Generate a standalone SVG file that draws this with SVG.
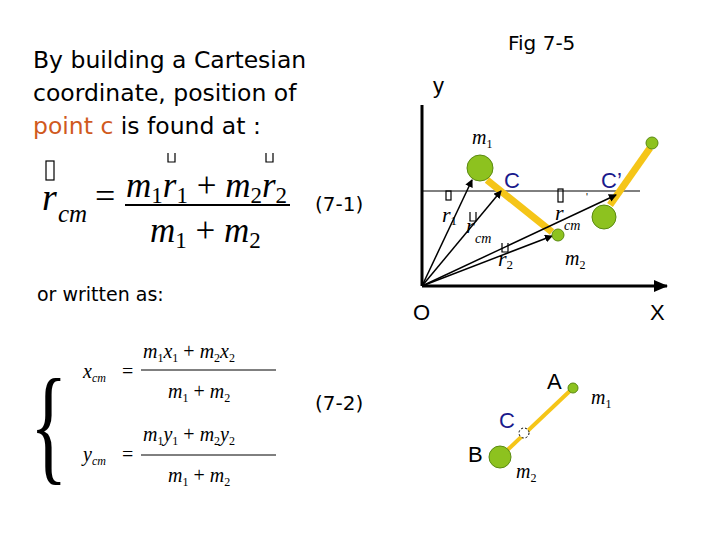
<svg xmlns="http://www.w3.org/2000/svg" width="720" height="540" viewBox="0 0 720 540">
<style>
.s{font-family:"Liberation Sans",Arial,sans-serif;fill:#000}
.t{font-family:"DejaVu Sans",sans-serif;fill:#000}
.v{font-family:"DejaVu Sans",sans-serif;fill:#000}
.m{font-family:"Liberation Serif","Times New Roman",serif;font-style:italic;fill:#000}
.n{font-family:"Liberation Serif","Times New Roman",serif;fill:#000}
.b{fill:#8dc21f;stroke:#5a8a10;stroke-width:1}
.bar{stroke:#f5c518;stroke-width:7}
.vec{stroke:#000;stroke-width:1.5;fill:none;marker-end:url(#a)}
.bx{fill:none;stroke:#000;stroke-width:1.2}
</style>
<defs>
<marker id="a" markerWidth="8" markerHeight="8" refX="7" refY="4" orient="auto" markerUnits="userSpaceOnUse"><path d="M0,0 L8,4 L0,8 z" fill="#000"/></marker>
<marker id="ax" markerWidth="14" markerHeight="12" refX="13" refY="6" orient="auto" markerUnits="userSpaceOnUse"><path d="M0,0 L14,6 L0,12 z" fill="#000"/></marker>
</defs>
<rect width="720" height="540" fill="#fff"/>
<g id="title">
<text class="t" x="508" y="50" font-size="20">Fig 7-5</text>
<text class="t" x="33" y="68" font-size="23.5">By building a Cartesian</text>
<text class="t" x="33" y="101" font-size="23.5">coordinate, position of</text>
<text class="t" x="33" y="134" font-size="23.5"><tspan fill="#d05a1e">point c</tspan> is found at :</text>
</g>
<g id="eq1">
<rect class="bx" x="46" y="161" width="8" height="19"/>
<text class="m" x="42" y="210" font-size="38">r</text>
<text class="m" x="58" y="222" font-size="25">cm</text>
<text class="n" x="95" y="208" font-size="36">=</text>
<text class="m" x="126" y="197" font-size="35">m<tspan font-style="normal" font-size="23" dy="6">1</tspan><tspan dy="-6">r</tspan><tspan font-style="normal" font-size="23" dy="6">1</tspan><tspan font-style="normal" dy="-6"> + </tspan>m<tspan font-style="normal" font-size="23" dy="6">2</tspan><tspan dy="-6">r</tspan><tspan font-style="normal" font-size="23" dy="6">2</tspan></text>
<path d="M168,153 v9 h7 v-9 M266,153 v9 h7 v-9" fill="none" stroke="#000" stroke-width="1.2"/>
<line x1="125" y1="205" x2="290" y2="205" stroke="#000" stroke-width="2"/>
<text class="m" x="150" y="242" font-size="35">m<tspan font-style="normal" font-size="23" dy="6">1</tspan><tspan font-style="normal" dy="-6"> + </tspan>m<tspan font-style="normal" font-size="23" dy="6">2</tspan></text>
<text class="v" x="315" y="211" font-size="20">(7-1)</text>
</g>
<g id="eq2">
<text class="v" x="37" y="301" font-size="19">or written as:</text>
<text class="n" x="50" y="468" font-size="130" transform="scale(0.6,1)" style="font-style:normal">{</text>
<text class="m" x="83" y="378" font-size="20">x<tspan font-size="12" dy="4">cm</tspan></text>
<text class="n" x="122" y="378" font-size="20">=</text>
<text class="m" x="143" y="358" font-size="20">m<tspan font-style="normal" font-size="12" dy="4">1</tspan><tspan dy="-4">x</tspan><tspan font-style="normal" font-size="12" dy="4">1</tspan><tspan font-style="normal" dy="-4"> + </tspan>m<tspan font-style="normal" font-size="12" dy="4">2</tspan><tspan dy="-4">x</tspan><tspan font-style="normal" font-size="12" dy="4">2</tspan></text>
<line x1="141" y1="370" x2="276" y2="370" stroke="#000" stroke-width="1"/>
<text class="m" x="168" y="398" font-size="20">m<tspan font-style="normal" font-size="12" dy="4">1</tspan><tspan font-style="normal" dy="-4"> + </tspan>m<tspan font-style="normal" font-size="12" dy="4">2</tspan></text>
<text class="m" x="83" y="461" font-size="20">y<tspan font-size="12" dy="4">cm</tspan></text>
<text class="n" x="122" y="461" font-size="20">=</text>
<text class="m" x="143" y="441" font-size="20">m<tspan font-style="normal" font-size="12" dy="4">1</tspan><tspan dy="-4">y</tspan><tspan font-style="normal" font-size="12" dy="4">1</tspan><tspan font-style="normal" dy="-4"> + </tspan>m<tspan font-style="normal" font-size="12" dy="4">2</tspan><tspan dy="-4">y</tspan><tspan font-style="normal" font-size="12" dy="4">2</tspan></text>
<line x1="141" y1="455" x2="276" y2="455" stroke="#000" stroke-width="1"/>
<text class="m" x="168" y="482" font-size="20">m<tspan font-style="normal" font-size="12" dy="4">1</tspan><tspan font-style="normal" dy="-4"> + </tspan>m<tspan font-style="normal" font-size="12" dy="4">2</tspan></text>
<text class="v" x="315" y="410" font-size="20">(7-2)</text>
</g>
<g id="axes">
<line x1="422" y1="286" x2="422" y2="105" stroke="#000" stroke-width="3"/>
<line x1="422" y1="286" x2="667" y2="286" stroke="#000" stroke-width="3" marker-end="url(#ax)"/>
<line x1="422" y1="191" x2="640" y2="191" stroke="#000" stroke-width="1"/>
<text class="s" x="433" y="93" font-size="22">y</text>
<text class="s" x="413" y="320" font-size="22">O</text>
<text class="s" x="650" y="320" font-size="22">X</text>
</g>
<g id="rods">
<line class="bar" x1="487" y1="180" x2="552" y2="232"/>
<line class="bar" x1="610" y1="205" x2="650" y2="148"/>
<line x1="573" y1="388" x2="500" y2="457" class="bar" style="stroke-width:4"/>
</g>
<g id="connectors">
<line class="vec" x1="422" y1="286" x2="472" y2="180"/>
<line class="vec" x1="422" y1="286" x2="501" y2="191"/>
<line class="vec" x1="422" y1="286" x2="552" y2="236"/>
<line class="vec" x1="422" y1="286" x2="616" y2="195"/>
</g>
<g id="m1"><circle class="b" cx="480" cy="168" r="13"/><text class="m" x="472" y="144" font-size="20">m<tspan font-style="normal" font-size="12" dy="4">1</tspan></text></g>
<g id="m2"><circle class="b" cx="558" cy="235" r="6"/><text class="m" x="565" y="265" font-size="20">m<tspan font-style="normal" font-size="12" dy="4">2</tspan></text></g>
<g id="C"><text class="s" x="504" y="188" font-size="22" style="fill:#1a1a8c">C</text></g>
<g id="Cp"><circle class="b" cx="604" cy="217" r="12"/><circle class="b" cx="652" cy="143" r="6"/><text class="s" x="601" y="188" font-size="22" style="fill:#1a1a8c">C’</text></g>
<g id="labels">
<rect class="bx" x="446" y="191" width="5" height="9"/>
<text class="m" x="442" y="222" font-size="22">r<tspan font-style="normal" font-size="13" dy="3">1</tspan></text>
<path d="M470,212 v9 h6 v-9" class="bx"/>
<text class="m" x="466" y="233" font-size="22">r</text>
<text class="m" x="475" y="243" font-size="14">cm</text>
<path d="M502,243 v9 h6 v-9" class="bx"/>
<text class="m" x="498" y="266" font-size="22">r<tspan font-style="normal" font-size="13" dy="3">2</tspan></text>
<rect class="bx" x="558" y="189" width="5" height="13"/>
<text class="m" x="555" y="220" font-size="22">r</text>
<text class="m" x="564" y="230" font-size="14">cm</text>
<text class="s" x="586" y="201" font-size="10">'</text>
</g>
<g id="AB">
<circle class="b" cx="573" cy="388" r="5"/>
<circle class="b" cx="500" cy="457" r="11"/>
<circle cx="524" cy="433" r="5" fill="#fff" stroke="#000" stroke-dasharray="2,2"/>
<text class="s" x="547" y="389" font-size="22">A</text>
<text class="s" x="499" y="428" font-size="22" style="fill:#1a1a8c">C</text>
<text class="s" x="468" y="462" font-size="22">B</text>
<text class="m" x="591" y="404" font-size="20">m<tspan font-style="normal" font-size="12" dy="4">1</tspan></text>
<text class="m" x="516" y="478" font-size="20">m<tspan font-style="normal" font-size="12" dy="4">2</tspan></text>
</g>
</svg>
